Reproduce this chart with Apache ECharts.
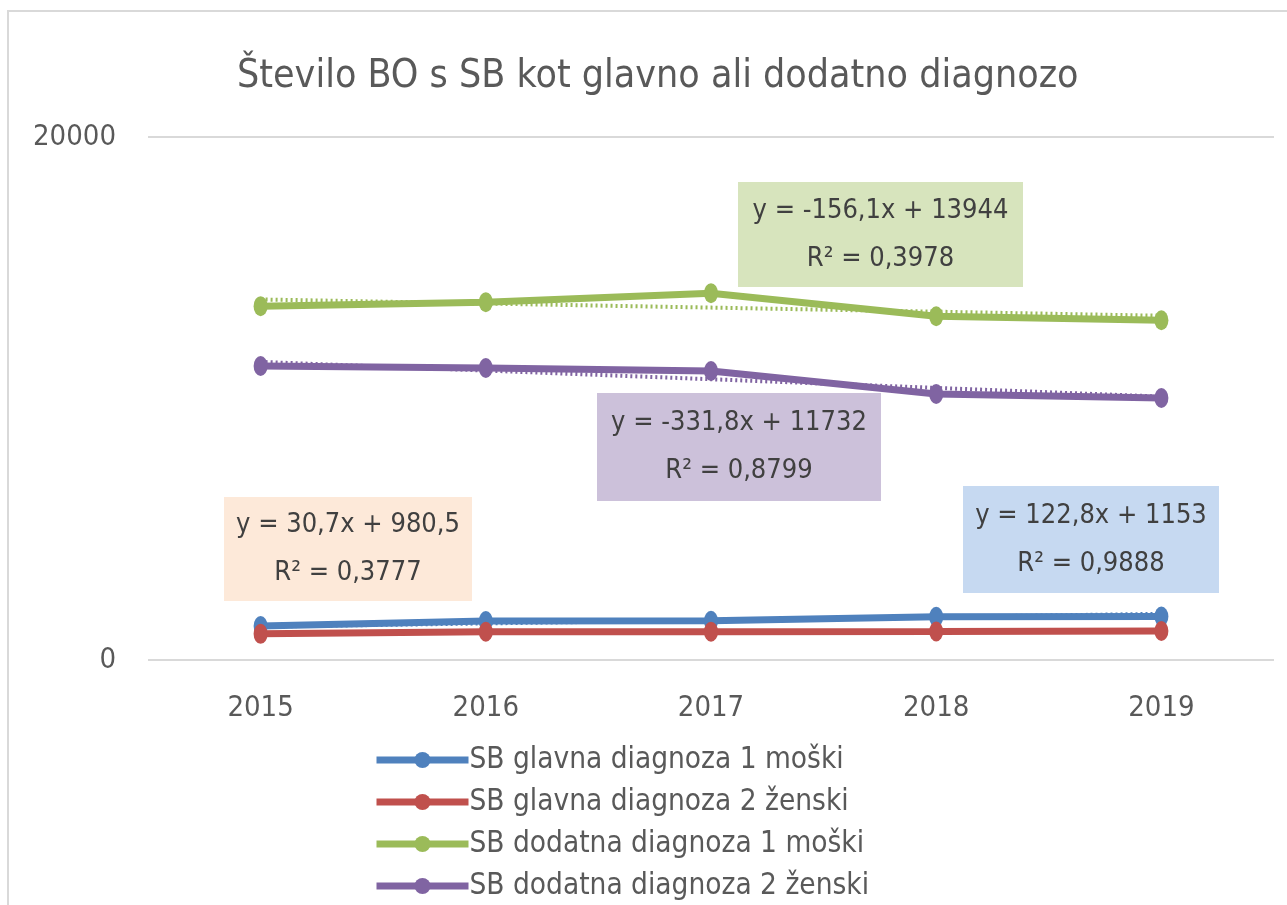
<!DOCTYPE html>
<html>
<head>
<meta charset="utf-8">
<script src="https://cdn.jsdelivr.net/npm/echarts@6/dist/echarts.min.js"></script>
<style>
  html, body { margin: 0; padding: 0; background: #fff; }
  #main { width: 1287px; height: 905px; }
</style>
</head>
<body>
<div id="main"></div>
<script>
// data
const years = ['2015', '2016', '2017', '2018', '2019'];
const glavnaMoski = [1300, 1490, 1500, 1650, 1665];
const glavnaZenski = [1000, 1080, 1085, 1090, 1108];
const dodatnaMoski = [13530, 13683, 14027, 13147, 12994];
const dodatnaZenski = [11243, 11166, 11052, 10172, 10019];
const seriesNames = [
  'SB glavna diagnoza 1 moški',
  'SB glavna diagnoza 2 ženski',
  'SB dodatna diagnoza 1 moški',
  'SB dodatna diagnoza 2 ženski'
];
// linear trendlines as printed on the chart (x = 1..5)
const trendSlope = [122.8, 30.7, -156.1, -331.8];
const trendIntercept = [1153, 980.5, 13944, 11732];
const trendText = [
  'y = 122,8x + 1153\nR² = 0,9888',
  'y = 30,7x + 980,5\nR² = 0,3777',
  'y = -156,1x + 13944\nR² = 0,3978',
  'y = -331,8x + 11732\nR² = 0,8799'
];

const colors = ['#4f81bd', '#c0504d', '#9bbb59', '#8064a2'];
const boxColors = ['#c6d9f1', '#fde9d9', '#d7e4bd', '#ccc1da'];
const values = [glavnaMoski, glavnaZenski, dodatnaMoski, dodatnaZenski];
const font = "'Liberation Sans Narrow', 'DejaVu Sans Condensed', sans-serif";

let chart = echarts.init(document.getElementById('main'));

let series = [];
values.forEach((v, i) => {
  series.push({
    name: seriesNames[i],
    type: 'line',
    data: v,
    color: colors[i],
    symbol: 'circle',
    symbolSize: [14, 20],
    lineStyle: { width: 7 },
    z: 3
  });
});
values.forEach((v, i) => {
  series.push({
    name: 'trend' + i,
    type: 'line',
    data: years.map((y, k) => trendIntercept[i] + trendSlope[i] * (k + 1)),
    color: colors[i],
    symbol: 'none',
    lineStyle: { width: 4, type: [2, 3] },
    silent: true,
    z: 2
  });
});

// label boxes: [left, top, width, height]
const boxes = [
  [963, 486, 256, 107],
  [224, 497, 248, 104],
  [738, 182, 285, 105],
  [597, 393, 284, 108]
];
let graphics = [{
  type: 'rect',
  shape: { x: 8, y: 11, width: 1290, height: 910 },
  style: { fill: 'none', stroke: '#d9d9d9', lineWidth: 2 },
  silent: true
}];
boxes.forEach((b, i) => {
  graphics.push({
    type: 'rect',
    shape: { x: b[0], y: b[1], width: b[2], height: b[3] },
    style: { fill: boxColors[i] },
    z: 10
  });
  graphics.push({
    type: 'text',
    x: b[0] + b[2] / 2,
    y: b[1] + b[3] / 2,
    style: {
      text: trendText[i],
      fill: '#404040',
      font: '27px ' + font,
      align: 'center',
      verticalAlign: 'middle',
      lineHeight: 48
    },
    z: 11
  });
});

chart.setOption({
  animation: false,
  backgroundColor: '#fff',
  title: {
    text: 'Število BO s SB kot glavno ali dodatno diagnozo',
    left: 232,
    top: 52,
    textStyle: { color: '#595959', fontSize: 39, fontWeight: 'normal', fontFamily: font }
  },
  grid: { left: 148, right: 13, top: 137, bottom: 245 },
  legend: {
    orient: 'vertical',
    left: 373,
    top: 745,
    height: 170,
    padding: 0,
    itemWidth: 92,
    itemHeight: 20,
    itemGap: 12,
    data: seriesNames,
    lineStyle: { width: 7 },
    textStyle: { color: '#595959', fontSize: 29.5, lineHeight: 28, fontFamily: font, padding: [0, 0, 0, -4] }
  },
  xAxis: {
    type: 'category',
    data: years,
    boundaryGap: true,
    axisLine: { show: false },
    axisTick: { show: false },
    axisLabel: { color: '#595959', fontSize: 29, fontFamily: font, margin: 34 }
  },
  yAxis: {
    type: 'value',
    min: 0,
    max: 20000,
    interval: 20000,
    axisLine: { show: false },
    axisTick: { show: false },
    splitLine: { lineStyle: { color: '#d9d9d9', width: 2 } },
    axisLabel: { color: '#595959', fontSize: 29, fontFamily: font, margin: 32, formatter: v => String(v) }
  },
  series: series,
  graphic: graphics
});
</script>
</body>
</html>
